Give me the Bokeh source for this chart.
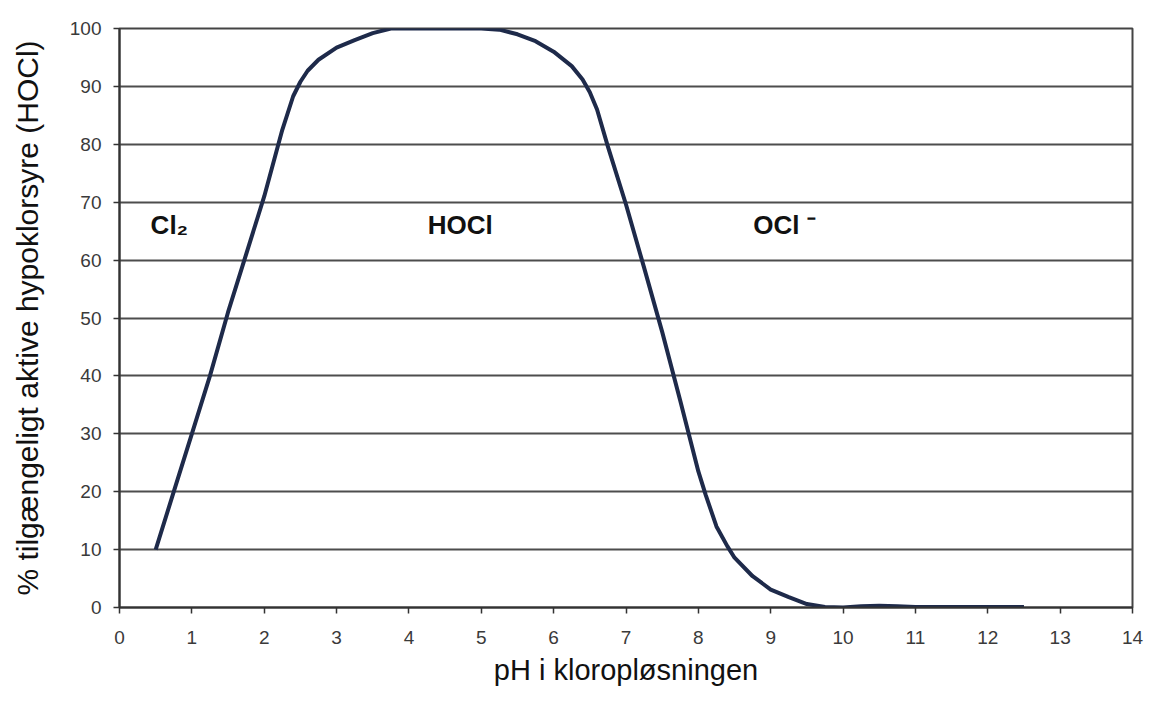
from bokeh.plotting import figure
from bokeh.models import FixedTicker, ColumnDataSource
from bokeh.core.properties import value
from bokeh.embed import file_html
from bokeh.resources import INLINE

# data
ph = [0.5, 0.75, 1.0, 1.25, 1.5, 1.75, 2.0, 2.25, 2.4, 2.5, 2.6, 2.75, 3.0, 3.25, 3.5, 3.75,
      4.0, 4.5, 5.0, 5.25, 5.5, 5.75, 6.0, 6.25, 6.4, 6.5, 6.6, 6.75, 7.0, 7.25, 7.5, 7.75,
      8.0, 8.1, 8.25, 8.4, 8.5, 8.75, 9.0, 9.25, 9.5, 9.75, 10.0, 10.25, 10.5, 10.75, 11.0,
      11.5, 12.0, 12.5]
hocl = [10, 20, 30, 40, 51, 61, 71, 82.5, 88.3, 90.8, 92.7, 94.6, 96.7, 98, 99.2, 100,
        100, 100, 100, 99.8, 99, 97.8, 96, 93.5, 91.2, 89, 86, 79.6, 69.6, 58.7, 47.6, 35.7,
        23.5, 19.5, 14, 10.6, 8.6, 5.4, 3.1, 1.8, 0.6, 0.1, 0.0, 0.2, 0.3, 0.2, 0.1,
        0.1, 0.1, 0.1]
x_ticks = list(range(0, 15))
y_ticks = list(range(0, 101, 10))
region_labels = ["Cl\u2082", "HOCl", "OCl \u207b"]
region_x = [0.43, 4.71, 8.76]
region_y = [66, 66, 66]
region_align = ["left", "center", "left"]

W, H = 1149, 688
p = figure(width=W, height=H, output_backend="svg", toolbar_location=None,
           x_range=(0, 14), y_range=(0, 100),
           min_border_left=119, min_border_right=17, min_border_top=28, min_border_bottom=81)
p.background_fill_color = "white"
p.border_fill_color = "white"
p.outline_line_color = "#444444"
p.outline_line_width = 2

p.line(ph, hocl, line_color="#1e2a4a", line_width=4, line_join="round")

src = ColumnDataSource(dict(x=region_x, y=region_y, t=region_labels, a=region_align))
p.text(x="x", y="y", text="t", text_align="a", source=src, text_baseline="middle",
       text_font=value("Liberation Sans"), text_font_style="bold", text_font_size="26px",
       text_color="#111111")

p.xgrid.grid_line_color = None
p.ygrid.grid_line_color = "#4d4d4d"
p.ygrid.grid_line_width = 2
p.ygrid.ticker = FixedTicker(ticks=y_ticks)

p.xaxis.ticker = FixedTicker(ticks=x_ticks)
p.yaxis.ticker = FixedTicker(ticks=y_ticks)
for ax in (p.xaxis[0], p.yaxis[0]):
    ax.axis_line_color = "#333333"
    ax.axis_line_width = 2
    ax.major_tick_line_color = "#333333"
    ax.major_tick_line_width = 1.5
    ax.major_tick_out = 6
    ax.major_tick_in = 0
    ax.minor_tick_line_color = None
    ax.major_label_text_font = "Liberation Sans"
    ax.major_label_text_font_size = "19px"
    ax.major_label_text_color = "#3a3a3a"
    ax.axis_label_text_font = "Liberation Sans"
    ax.axis_label_text_font_style = "normal"
    ax.axis_label_text_color = "#111111"

p.xaxis.axis_label_text_font_size = "29px"
p.yaxis.axis_label_text_font_size = "30px"
p.xaxis.axis_label = "pH i kloropløsningen"
p.yaxis.axis_label = "% tilgængeligt aktive hypoklorsyre (HOCl)"
p.xaxis.major_label_standoff = 17
p.yaxis.major_label_standoff = 12
p.xaxis.axis_label_standoff = 7
p.yaxis.axis_label_standoff = 23

open("out.html", "w").write(file_html(p, INLINE))
